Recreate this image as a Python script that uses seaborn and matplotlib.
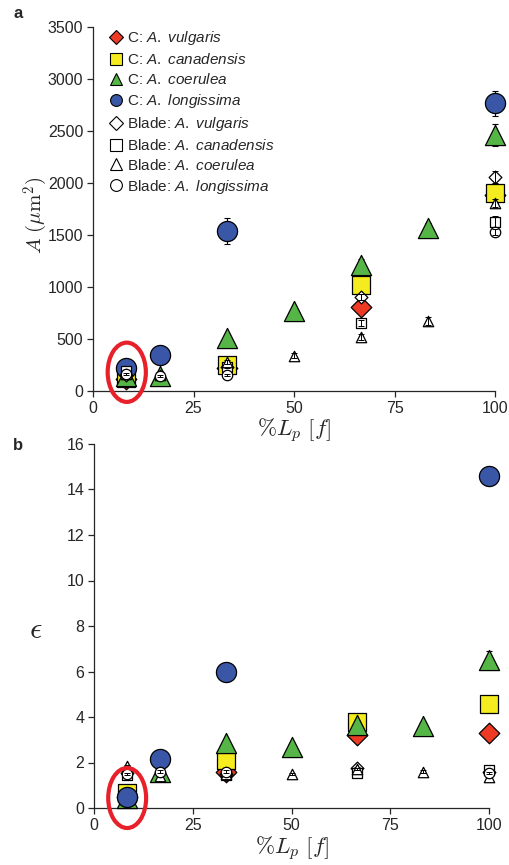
import numpy as np
import pandas as pd
import matplotlib
matplotlib.use("Agg")
import matplotlib.pyplot as plt
from matplotlib.lines import Line2D
from matplotlib.patches import Ellipse
import seaborn as sns

# positions along the petiole (% of L_p)
x_all = [8.33, 16.67, 33.33, 50, 66.67, 83.33, 100]
x_four = [8.33, 33.33, 66.67, 100]
x_long = [8.33, 16.67, 33.33, 100]

# panel a: area (um^2)
area_c_vulg = [120, 220, 808, 1880]
area_c_cana = [125, 250, 1019, 1904]
area_c_coer = [140, 140, 510, 770, 1211, 1567, 2460]
area_c_long = [225, 350, 1535, 2769]
area_b_vulg = [150, 230, 904, 2058]
area_b_cana = [190, 230, 654, 1625]
area_b_coer = [165, 150, 279, 340, 519, 673, 1808]
area_b_long = [165, 140, 154, 1529]

area_err_c_vulg = [15, 20, 40, 60]
area_err_c_cana = [15, 20, 60, 60]
area_err_c_coer = [10, 10, 20, 20, 60, 50, 105]
area_err_c_long = [15, 20, 125, 120]
area_err_b_vulg = [10, 10, 30, 60]
area_err_b_cana = [10, 10, 25, 60]
area_err_b_coer = [15, 10, 20, 25, 25, 40, 40]
area_err_b_long = [10, 10, 10, 30]

# panel b: epsilon
eps_c_vulg = [0.5, 1.6, 3.2, 3.3]
eps_c_cana = [0.65, 2.1, 3.8, 4.57]
eps_c_coer = [0.45, 1.6, 2.85, 2.7, 3.65, 3.6, 6.5]
eps_c_long = [0.48, 2.15, 6.0, 14.6]
eps_b_vulg = [1.55, 1.5, 1.75, 1.6]
eps_b_cana = [1.45, 1.45, 1.55, 1.65]
eps_b_coer = [1.85, 1.4, 1.5, 1.5, 1.7, 1.6, 1.35]
eps_b_long = [1.5, 1.6, 1.6, 1.55]

eps_err_c_vulg = [0.05, 0.05, 0.1, 0.1]
eps_err_c_cana = [0.1, 0.1, 0.15, 0.1]
eps_err_c_coer = [0.05, 0.05, 0.1, 0.1, 0.1, 0.1, 0.4]
eps_err_c_long = [0.05, 0.1, 0.1, 0.3]
eps_err_b = 0.05

species = ["A. vulgaris", "A. canadensis", "A. coerulea", "A. longissima"]
colors = ["#EE3A24", "#F4EC1F", "#55B546", "#3A56A6"]
markers = ["D", "s", "^", "o"]
c_sizes = [10.5, 13, 14.5, 14.5]
b_sizes = [6.5, 7.5, 7.5, 7.5]

sns.set_style("ticks")
plt.rcParams["font.family"] = ["Liberation Sans", "DejaVu Sans"]
plt.rcParams["mathtext.fontset"] = "custom"
plt.rcParams["mathtext.rm"] = "Liberation Sans"
plt.rcParams["mathtext.it"] = "Liberation Sans:italic"

fig = plt.figure(figsize=(5.09, 8.65), dpi=100)
ax_a = fig.add_axes([93 / 509, 1 - 391 / 865, 402 / 509, 364 / 865])
ax_b = fig.add_axes([94 / 509, 1 - 808 / 865, 395 / 509, 364 / 865])


def draw_panel(ax, xs, c_vals, b_vals, c_errs, b_errs):
    z = 3
    for i in range(4):
        sns.scatterplot(x=xs[i], y=c_vals[i], marker=markers[i], s=c_sizes[i] ** 2,
                        color=colors[i], edgecolor="black", linewidth=0.9,
                        ax=ax, zorder=z + 1, clip_on=False, legend=False)
        ax.errorbar(xs[i], c_vals[i], yerr=c_errs[i], fmt="none", ecolor="black",
                    elinewidth=0.8, capsize=2.5, capthick=0.8, zorder=z, clip_on=False)
        z += 2
    for i in range(4):
        sns.scatterplot(x=xs[i], y=b_vals[i], marker=markers[i], s=b_sizes[i] ** 2,
                        color="white", edgecolor="black", linewidth=0.9,
                        ax=ax, zorder=z, clip_on=False, legend=False)
        ax.errorbar(xs[i], b_vals[i], yerr=b_errs[i], fmt="none", ecolor="black",
                    elinewidth=0.7, capsize=2, capthick=0.7, zorder=z + 1, clip_on=False)
        z += 2
    ax.set_xlim(0, 100)
    ax.set_xticks([0, 25, 50, 75, 100])
    ax.tick_params(direction="out", length=4, width=0.9, labelsize=11.5, pad=3)
    for sp in ["top", "right"]:
        ax.spines[sp].set_visible(False)
    for sp in ["left", "bottom"]:
        ax.spines[sp].set_linewidth(0.9)
    ax.set_xlabel("")
    ax.set_ylabel("")


xs = [x_four, x_four, x_all, x_long]
draw_panel(ax_a, xs,
           [area_c_vulg, area_c_cana, area_c_coer, area_c_long],
           [area_b_vulg, area_b_cana, area_b_coer, area_b_long],
           [area_err_c_vulg, area_err_c_cana, area_err_c_coer, area_err_c_long],
           [area_err_b_vulg, area_err_b_cana, area_err_b_coer, area_err_b_long])
ax_a.set_ylim(0, 3500)
ax_a.set_yticks(range(0, 3501, 500))

draw_panel(ax_b, xs,
           [eps_c_vulg, eps_c_cana, eps_c_coer, eps_c_long],
           [eps_b_vulg, eps_b_cana, eps_b_coer, eps_b_long],
           [eps_err_c_vulg, eps_err_c_cana, eps_err_c_coer, eps_err_c_long],
           [eps_err_b] * 4)
ax_b.set_ylim(0, 16)
ax_b.set_yticks(range(0, 17, 2))

# red rings around the first position
ax_a.add_patch(Ellipse((8.4, 180), 9.5, 570, fill=False, edgecolor="#E8202A",
                       linewidth=3, zorder=30, clip_on=False))
ax_b.add_patch(Ellipse((8.4, 0.44), 9.6, 2.64, fill=False, edgecolor="#E8202A",
                       linewidth=3, zorder=30, clip_on=False))

# legend
handles = []
labels = []
for i in range(4):
    handles.append(Line2D([], [], ls="none", marker=markers[i], markersize=b_sizes[i] + 1,
                          markerfacecolor=colors[i], markeredgecolor="black", markeredgewidth=0.8))
    labels.append("C: $\\mathit{" + species[i].replace(" ", "\\ ") + "}$")
for i in range(4):
    handles.append(Line2D([], [], ls="none", marker=markers[i], markersize=b_sizes[i] + 1,
                          markerfacecolor="white", markeredgecolor="black", markeredgewidth=0.8))
    labels.append("Blade: $\\mathit{" + species[i].replace(" ", "\\ ") + "}$")
ax_a.legend(handles, labels, loc="upper left", bbox_to_anchor=(0.02, 1.01), frameon=False,
            fontsize=11, handletextpad=0.1, handlelength=1.2, labelspacing=0.32,
            borderaxespad=0)

# axis labels and panel letters
fig.text(294 / 509, 1 - 431 / 865, r"$\%L_p\ [f]$", ha="center", va="center",
         fontsize=16.5, math_fontfamily="cm")
fig.text(292 / 509, 1 - 849 / 865, r"$\%L_p\ [f]$", ha="center", va="center",
         fontsize=16.5, math_fontfamily="cm")
fig.text(36 / 509, 1 - 215 / 865, r"$A\ (\mu\mathrm{m}^2)$", ha="center", va="center",
         rotation=90, fontsize=15, math_fontfamily="cm")
fig.text(36 / 509, 1 - 630 / 865, r"$\epsilon$", ha="center", va="center",
         fontsize=22, math_fontfamily="cm")
fig.text(18 / 509, 1 - 14 / 865, "a", ha="center", va="center", fontsize=12, fontweight="bold")
fig.text(18 / 509, 1 - 445 / 865, "b", ha="center", va="center", fontsize=12, fontweight="bold")

fig.savefig("out.png", dpi=100)
